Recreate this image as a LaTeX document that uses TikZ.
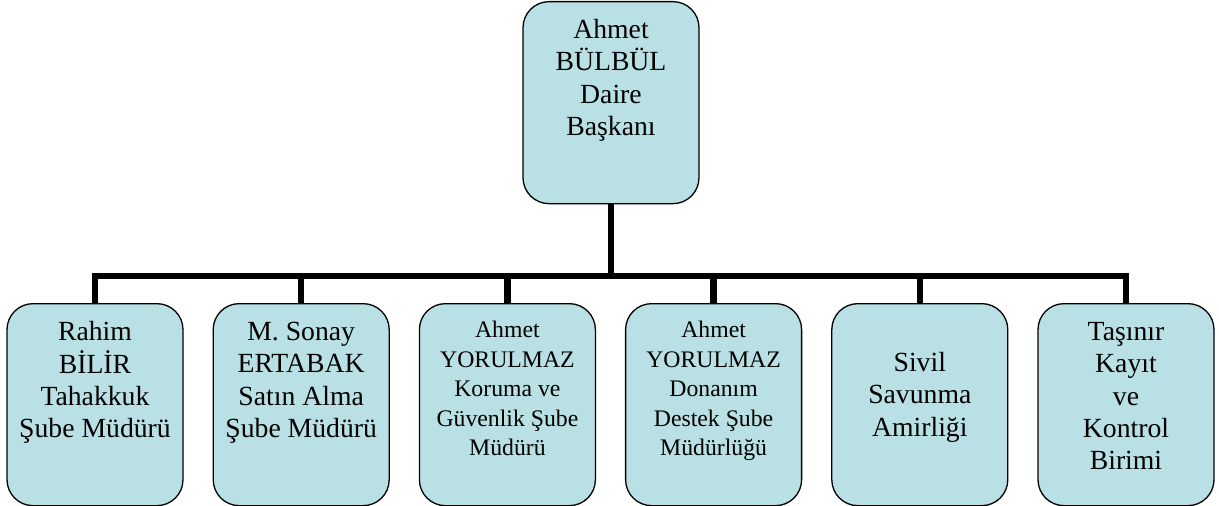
\documentclass[tikz,border=0pt]{standalone}
\usepackage{fontspec}
\usepackage{graphicx}
\newfontfamily\tnr{Liberation Serif}
\definecolor{boxfill}{HTML}{B9E0E4}
\newcommand{\biglines}[1]{\begin{tabular}{@{}c@{}}#1\end{tabular}}
\newcommand{\smalllines}[1]{\scalebox{0.857}{\begin{tabular}{@{}c@{}}#1\end{tabular}}}
\begin{document}
\begin{tikzpicture}[x=1pt,y=-1pt,
  orgbox/.style={draw=black, line width=1.3pt, fill=boxfill, rounded corners=26pt,
    minimum width=176pt, minimum height=202pt, inner sep=0pt, anchor=north},
  lbl/.style={inner sep=0pt, anchor=north, font=\tnr\fontsize{27.7}{32.3}\selectfont},
  lblsmall/.style={inner sep=0pt, anchor=north, font=\tnr\fontsize{27.7}{34.4}\selectfont},
  bus/.style={line width=6.5pt, line join=miter}]
\useasboundingbox (0,0) rectangle (1219,506);
% boxes
\node[orgbox] (top) at (611,1) {};
\node[orgbox] (b1) at (95,303) {};
\node[orgbox] (b2) at (301.2,303) {};
\node[orgbox] (b3) at (507.4,303) {};
\node[orgbox] (b4) at (713.6,303) {};
\node[orgbox] (b5) at (919.8,303) {};
\node[orgbox] (b6) at (1126,303) {};
% labels
\node[lbl] (ttop) at (611,15.7) {\biglines{Ahmet\\BÜLBÜL\\Daire\\Başkanı}};
\node[lbl] (t1) at (95,317.7) {\biglines{Rahim\\BİLİR\\Tahakkuk\\Şube Müdürü}};
\node[lbl] (t2) at (301.2,317.7) {\biglines{M. Sonay\\ERTABAK\\Satın Alma\\Şube Müdürü}};
\node[lblsmall] (t3) at (507.4,317.1) {\smalllines{Ahmet\\YORULMAZ\\Koruma ve\\Güvenlik Şube\\Müdürü}};
\node[lblsmall] (t4) at (713.6,317.1) {\smalllines{Ahmet\\YORULMAZ\\Donanım\\Destek Şube\\Müdürlüğü}};
\node[lbl] (t5) at (919.8,348.7) {\biglines{Sivil\\Savunma\\Amirliği}};
\node[lbl] (t6) at (1126,317.7) {\biglines{Taşınır\\Kayıt\\ve\\Kontrol\\Birimi}};
% connectors
\coordinate (busy) at (611,276);
\draw[bus] (top.south) -- (top.south |- busy);
\draw[bus] (b1.north) -- (b1.north |- busy) -- (b6.north |- busy) -- (b6.north);
\foreach \b in {b2,b3,b4,b5}{
  \draw[bus] (\b.north) -- (\b.north |- busy);
}
\end{tikzpicture}
\end{document}
